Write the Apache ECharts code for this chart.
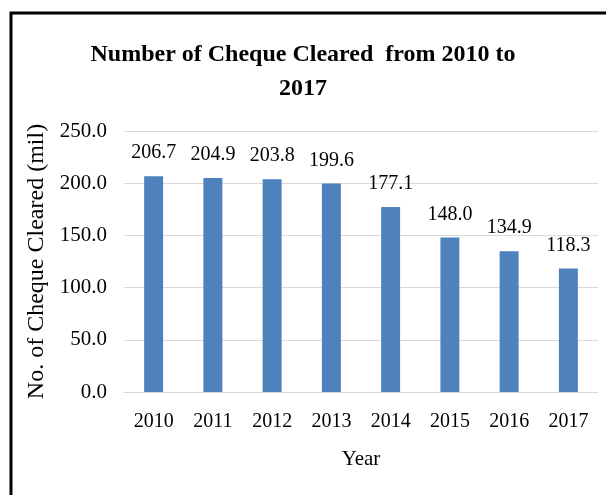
<!DOCTYPE html>
<html>
<head>
<meta charset="utf-8">
<script src="https://cdn.jsdelivr.net/npm/echarts@6/dist/echarts.min.js"></script>
<style>
  html, body { margin: 0; padding: 0; background: #fff; }
  #chart { width: 606px; height: 495px; }
</style>
</head>
<body>
<div id="chart"></div>
<script>
// Cheques cleared per year, in millions
const years = ['2010', '2011', '2012', '2013', '2014', '2015', '2016', '2017'];
const chequesCleared = [206.7, 204.9, 203.8, 199.6, 177.1, 148.0, 134.9, 118.3];
const titleText = 'Number of Cheque Cleared  from 2010 to\n2017';
const yAxisName = 'No. of Cheque Cleared (mil)';
const xAxisName = 'Year';

const serif = '"Liberation Serif", "DejaVu Serif", serif';

const chart = echarts.init(document.getElementById('chart'), null, { renderer: 'canvas' });

chart.setOption({
  backgroundColor: '#ffffff',
  animation: false,
  title: {
    text: titleText,
    left: 'center',
    top: 33,
    itemGap: 0,
    textStyle: {
      fontFamily: serif,
      fontWeight: 'bold',
      fontSize: 24,
      lineHeight: 34,
      color: '#000'
    }
  },
  graphic: [{
    type: 'rect',
    shape: { x: 11, y: 13, width: 700, height: 600 },
    style: { fill: null, stroke: '#000', lineWidth: 3 },
    silent: true
  }],
  grid: { left: 124, right: 8, top: 131, bottom: 103, containLabel: false },
  xAxis: {
    type: 'category',
    data: years,
    name: xAxisName,
    nameLocation: 'middle',
    nameGap: 57,
    nameTextStyle: { fontFamily: serif, fontSize: 21, color: '#000' },
    axisLine: { show: true, lineStyle: { color: '#d9d9d9', width: 1 } },
    axisTick: { show: false },
    axisLabel: { fontFamily: serif, fontSize: 20, color: '#000', margin: 20 }
  },
  yAxis: {
    type: 'value',
    min: 0,
    max: 250,
    interval: 50,
    name: yAxisName,
    nameLocation: 'middle',
    nameGap: 74,
    nameTextStyle: { fontFamily: serif, fontSize: 24, color: '#000' },
    axisLine: { show: false },
    axisTick: { show: false },
    splitLine: { lineStyle: { color: '#d9d9d9', width: 1 } },
    axisLabel: {
      fontFamily: serif,
      fontSize: 21,
      color: '#000',
      margin: 17,
      formatter: v => v.toFixed(1)
    }
  },
  series: [{
    type: 'bar',
    data: chequesCleared,
    barWidth: '32%',
    itemStyle: { color: '#4f81bd' },
    label: {
      show: true,
      position: 'top',
      distance: 13,
      fontFamily: serif,
      fontSize: 20,
      color: '#000',
      formatter: p => p.value.toFixed(1)
    }
  }]
});
</script>
</body>
</html>
